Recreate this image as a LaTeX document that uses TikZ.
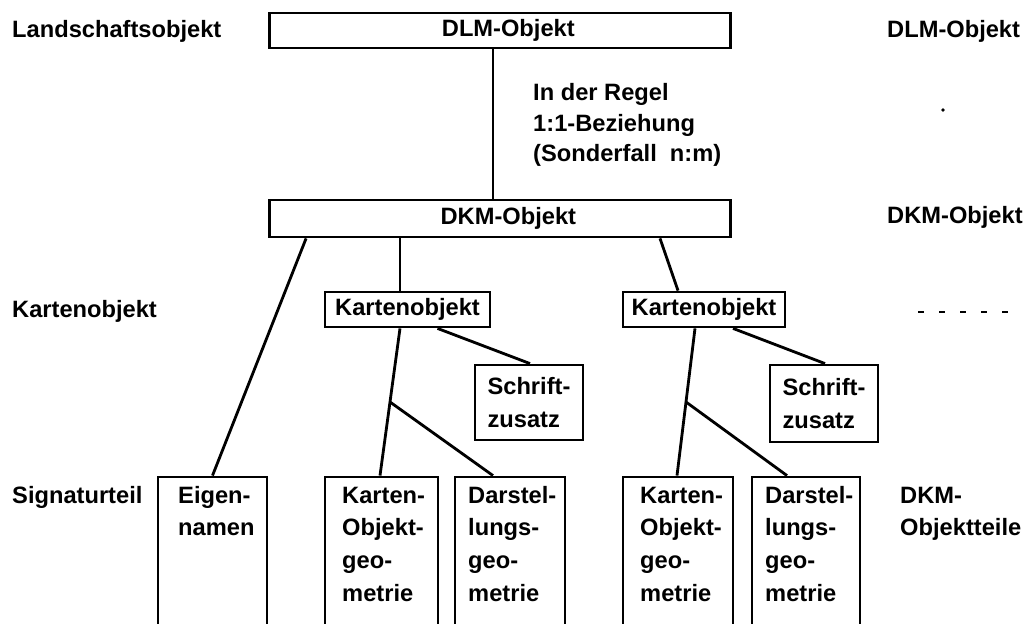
\documentclass[tikz,border=0pt]{standalone}
\usepackage{fontspec}
\newfontfamily\diafont{Liberation Sans Bold}
\usetikzlibrary{calc}

\tikzset{
  every node/.style={font=\diafont\fontsize{20.2}{26}\selectfont, inner sep=0pt},
  obj/.style={draw, line width=2.4pt, rectangle},
  part/.style={obj, minimum height=5.49cm},
  conn/.style={line width=2.4pt},
  lbl/.style={anchor=base west},
}
\newcommand{\lines}[1]{\begin{tabular}[t]{@{}l@{}}#1\end{tabular}}
\newcommand{\wide}{\fontsize{20.2}{28}\selectfont}

\begin{document}
\begin{tikzpicture}[x=0.03cm, y=-0.03cm]
  \useasboundingbox (0,0) rectangle (1029,624);
  \clip (0,0) rectangle (1029,624);

  % main objects
  \node[obj, minimum width=13.83cm, minimum height=1.05cm] (dlm) at (500,30.5) {\hspace*{0.5cm}DLM-Objekt};
  \node[obj, minimum width=13.83cm, minimum height=1.11cm] (dkm) at (500,218.5) {\hspace*{0.5cm}DKM-Objekt};

  % map objects
  \node[obj, minimum width=4.95cm, minimum height=1.05cm] (ko1) at (407.5,309.5) {Kartenobjekt};
  \node[obj, minimum width=4.86cm, minimum height=1.05cm] (ko2) at (704,309.5) {Kartenobjekt};

  % lettering
  \node[obj, minimum width=3.24cm, minimum height=2.25cm, align=left, font=\diafont\wide] (sz1) at (529,402.5) {Schrift-\\zusatz};
  \node[obj, minimum width=3.24cm, minimum height=2.31cm, align=left, font=\diafont\wide] (sz2) at (824,403.5) {Schrift-\\zusatz};

  % signature parts (open towards the bottom edge)
  \node[part, minimum width=3.27cm] (eig) at (212.5,568.5) {};
  \node[part, minimum width=3.39cm] (kg1) at (381.5,568.5) {};
  \node[part, minimum width=3.30cm] (dg1) at (510,568.5) {};
  \node[part, minimum width=3.30cm] (kg2) at (678,568.5) {};
  \node[part, minimum width=3.24cm] (dg2) at (806,568.5) {};

  \node[lbl] (teig) at (178,503) {\wide\lines{Eigen-\\namen}};
  \node[lbl] (tkg1) at (342,503) {\wide\lines{Karten-\\Objekt-\\geo-\\metrie}};
  \node[lbl] (tdg1) at (468,503) {\wide\lines{Darstel-\\lungs-\\geo-\\metrie}};
  \node[lbl] (tkg2) at (640,503) {\wide\lines{Karten-\\Objekt-\\geo-\\metrie}};
  \node[lbl] (tdg2) at (765,503) {\wide\lines{Darstel-\\lungs-\\geo-\\metrie}};

  % level labels, left
  \node[lbl] (l1) at (12,38) {Landschaftsobjekt};
  \node[lbl] (l2) at (12,318) {Kartenobjekt};
  \node[lbl] (l3) at (12,503) {Signaturteil};

  % level labels, right
  \node[lbl] (r1) at (887,38) {DLM-Objekt};
  \node[lbl] (r2) at (887,224) {DKM-Objekt};
  \node[lbl] (r4) at (900,503) {\wide\lines{DKM-\\Objektteile}};
  \coordinate (d1) at (918,312);
  \coordinate (d2) at (1012,312);
  \draw[conn, dash pattern=on 0.18cm off 0.45cm] (d1) -- (d2);
  \fill (943,110) circle (1.8);

  % relation note
  \node[lbl] (note) at (533,101) {\lines{In der Regel\\1:1-Beziehung\\(Sonderfall\ \ n:m)}};

  % connectors
  \draw[conn] ($(dlm.south)+(-7,0)$) -- ($(dkm.north)+(-7,0)$);
  \draw[conn] ($(dkm.south west)+(38,0)$) -- (eig.north);
  \draw[conn] ($(dkm.south)+(-100,0)$) -- ($(ko1.north)+(-7.5,0)$);
  \draw[conn] ($(dkm.south)+(160,0)$) -- ($(ko2.north)+(-26,0)$);
  \draw[conn] ($(ko1.south)+(30,0)$) -- ($(sz1.north)+(1,0)$);
  \draw[conn] ($(ko2.south)+(29,0)$) -- ($(sz2.north)+(1,0)$);
  \draw[conn] ($(ko1.south)+(-7.5,0)$) -- coordinate[pos=0.5] (b1) ($(kg1.north)+(-1.5,0)$);
  \draw[conn] (b1) -- ($(dg1.north)+(-17,0)$);
  \draw[conn] ($(ko2.south)+(-9,0)$) -- coordinate[pos=0.5] (b2) ($(kg2.north)+(-1,0)$);
  \draw[conn] (b2) -- ($(dg2.north)+(-19,0)$);
\end{tikzpicture}
\end{document}
